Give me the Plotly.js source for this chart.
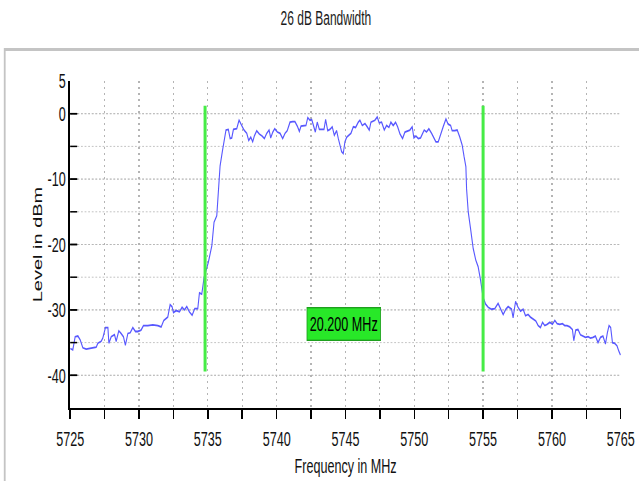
<!DOCTYPE html>
<html>
<head>
<meta charset="utf-8">
<script src="https://cdn.plot.ly/plotly-3.0.1.min.js"></script>
<style>
html,body{margin:0;padding:0;background:#ffffff;overflow:hidden;}
#frame{width:639px;height:481px;overflow:hidden;position:relative;}
#chart{position:absolute;left:0;top:0;transform-origin:0 0;}
</style>
</head>
<body>
<div id="frame"><div id="chart"></div></div>
<script>
// ---- data ----
const chartTitle = '26 dB Bandwidth';
const xTitle = 'Frequency in MHz';
const yTitle = 'Level in dBm';

const freqMHz = [
5725.00,5725.19,5725.36,5725.56,5725.73,5725.92,5726.16,5726.52,5726.89,5727.01,
5727.25,5727.37,5727.56,5727.74,5727.81,5727.98,5728.22,5728.34,5728.53,5728.70,
5728.87,5729.01,5729.19,5729.36,5729.55,5729.74,5729.91,5730.15,5730.32,5730.64,
5731.00,5731.37,5731.61,5731.80,5731.97,5732.09,5732.26,5732.40,5732.50,5732.70,
5732.94,5733.13,5733.30,5733.47,5733.66,5733.86,5734.05,5734.27,5734.39,5734.56,
5734.73,5735.04,5735.29,5735.45,5735.65,5735.77,5735.89,5736.06,5736.22,
5736.32,5736.49,5736.62,5736.74,5736.86,5737.10,5737.27,5737.46,5737.63,5737.83,
5737.97,5738.12,5738.26,5738.38,5738.55,5738.74,5738.94,5739.11,5739.28,5739.45,
5739.57,5739.72,5739.86,5740.05,5740.25,5740.44,5740.61,5740.77,5740.97,5741.17,
5741.33,5741.50,5741.65,5741.77,5741.94,5742.13,5742.26,5742.42,5742.55,5742.66,
5742.81,5742.95,5743.10,5743.27,5743.44,5743.56,5743.71,5743.87,5744.04,5744.19,
5744.36,5744.48,5744.60,5744.72,5744.84,
5744.96,5745.09,5745.25,5745.40,5745.57,5745.74,5745.93,5746.05,5746.22,5746.42,
5746.58,5746.73,5746.85,5747.02,5747.14,5747.31,5747.45,5747.63,5747.82,5747.99,
5748.16,5748.30,5748.47,5748.64,5748.79,5748.96,5749.15,5749.32,5749.52,5749.68,
5749.85,5749.97,5750.12,5750.29,5750.46,5750.58,5750.72,5750.89,5751.06,5751.26,
5751.42,5751.57,5751.74,5751.93,5752.10,5752.30,5752.46,5752.64,5752.75,5752.95,
5753.12,5753.31,5753.48,5753.62,5753.75,
5753.80,5753.92,5754.09,5754.28,5754.47,5754.64,5754.82,5754.96,
5755.00,5755.18,5755.37,5755.61,5755.85,5756.09,5756.29,5756.46,5756.65,5756.82,
5757.07,5757.18,5757.36,5757.54,5757.72,5757.91,5758.08,5758.27,5758.44,5758.63,
5758.83,5759.00,5759.17,5759.32,5759.48,5759.65,5759.85,5760.04,5760.21,5760.38,
5760.57,5760.77,5760.93,5761.10,5761.30,5761.49,5761.59,5761.73,5761.90,5762.07,
5762.26,5762.44,5762.63,5762.80,5762.99,5763.16,5763.35,5763.53,5763.71,5763.89,
5764.03,5764.15,5764.27,5764.40,5764.56,5764.73,5764.86,5764.98
];

const levelDbm = [
-35.9,-36.1,-34.1,-34.0,-34.6,-35.8,-36.0,-35.9,-35.7,-35.1,
-34.8,-34.3,-32.7,-32.7,-35.1,-34.1,-33.8,-34.8,-33.2,-33.6,
-34.1,-35.4,-33.6,-33.5,-32.7,-33.3,-33.3,-33.1,-32.4,-32.4,
-32.3,-32.4,-32.6,-31.6,-31.3,-31.1,-29.2,-29.5,-30.4,-30.1,
-30.3,-29.6,-30.0,-29.5,-30.3,-30.8,-29.8,-29.8,-27.4,-27.6,
-25.0,-22.7,-20.2,-16.6,-15.6,-11.5,-8.0,-5.7,-3.8,
-2.5,-2.4,-3.8,-3.7,-2.4,-2.3,-1.0,-1.8,-2.5,-3.0,
-4.1,-3.6,-4.3,-3.4,-2.6,-3.1,-3.4,-3.8,-3.0,-2.5,
-3.7,-2.8,-2.3,-2.8,-3.0,-3.8,-3.0,-2.6,-1.3,-1.2,
-1.2,-1.9,-2.7,-1.9,-1.9,-1.8,-0.6,-1.0,-0.9,-1.8,
-2.8,-1.3,-2.4,-2.4,-2.4,-0.9,-2.6,-2.4,-2.0,-3.3,
-2.6,-3.8,-4.8,-5.8,-6.1,
-4.3,-3.6,-3.3,-3.0,-2.0,-2.1,-1.3,-1.0,-1.8,-1.5,
-2.0,-2.5,-1.3,-1.1,-1.0,-0.5,-1.4,-1.3,-2.5,-1.8,
-2.1,-1.3,-1.8,-1.3,-2.0,-3.1,-3.8,-2.8,-2.6,-2.5,
-2.0,-3.7,-3.4,-3.8,-3.7,-3.1,-2.5,-2.8,-2.3,-3.0,
-3.7,-4.3,-4.3,-3.0,-2.0,-0.8,-1.6,-1.8,-2.6,-2.6,
-2.5,-3.6,-4.8,-6.6,-8.1,
-11.5,-15.0,-17.6,-20.6,-22.4,-23.4,-25.5,-27.2,
-28.1,-29.1,-29.6,-29.9,-29.8,-29.0,-29.9,-30.7,-29.9,-29.5,
-29.9,-31.2,-28.7,-29.6,-30.2,-29.9,-30.9,-30.7,-31.1,-31.4,
-31.7,-32.4,-32.7,-31.9,-32.4,-32.2,-31.9,-32.2,-31.6,-32.1,
-32.2,-32.1,-32.4,-32.4,-32.6,-33.0,-34.7,-33.1,-33.0,-33.8,
-34.0,-34.2,-34.1,-34.3,-34.2,-34.0,-35.0,-34.2,-34.0,-35.2,
-33.5,-32.4,-32.7,-35.0,-35.1,-35.5,-36.3,-36.9
];

// bandwidth markers (frequency of each marker, and the level span drawn)
const markerFreqMHz = [5734.8, 5755.0];
const markerSpanDbm = [1.2, -39.4];
const bandwidthText = '20.200 MHz';
const bandwidthLabelLevel = -32.2;

const xTickVals = [5725, 5730, 5735, 5740, 5745, 5750, 5755, 5760, 5765];
const xTickText = ['5725', '5730', '5735', '5740', '5745', '5750', '5755', '5760', '5765'];
const yTickVals = [5, 0, -10, -20, -30, -40];
const yTickText = ['5', '0', '-10', '-20', '-30', '-40'];
const xRange = [5725, 5765.02];
const yRange = [-45, 5];

// ---- page geometry: the reference draws its text horizontally condensed,
// so the chart is laid out wider and squeezed horizontally by K ----
const K = 0.6;
const W = 639, H = 481;
const chartEl = document.getElementById('chart');
chartEl.style.transform = 'scaleX(' + K + ')';

const font = "'Liberation Sans',Arial,sans-serif";

const mx = [], my = [];
markerFreqMHz.forEach((f, i) => {
  if (i > 0) { mx.push(null); my.push(null); }
  mx.push(f, f);
  my.push(markerSpanDbm[0], markerSpanDbm[1]);
});

const traces = [
  {
    type: 'scatter', mode: 'lines',
    x: freqMHz, y: levelDbm,
    line: {color: 'rgb(88,88,255)', width: 1.8},
    hoverinfo: 'skip', showlegend: false
  },
  {
    type: 'scatter', mode: 'lines',
    x: mx, y: my,
    line: {color: 'rgb(70,236,70)', width: 3 / K},
    hoverinfo: 'skip', showlegend: false
  }
];

const gridCol = '#b4b4b4';
const layout = {
  width: W / K, height: H,
  margin: {l: 70 / K, r: 18 / K, t: 81, b: 73, pad: 0},
  paper_bgcolor: '#ffffff', plot_bgcolor: '#ffffff',
  showlegend: false,
  title: {
    text: chartTitle, x: 0.51, xanchor: 'center', y: 1 - 18 / H, yanchor: 'middle',
    font: {family: font, size: 20, color: '#1a1a1a'}
  },
  xaxis: {
    range: xRange, tickmode: 'array', tickvals: xTickVals, ticktext: xTickText,
    ticks: 'outside', ticklen: 9, tickwidth: 1.5 / K, tickcolor: '#000',
    showline: true, linewidth: 2, linecolor: '#000',
    showgrid: true, gridcolor: gridCol, gridwidth: 1.2 / K, griddash: '2px,4px',
    zeroline: false,
    ticklabelstandoff: 2, ticklabeloverflow: 'allow',
    tickfont: {family: font, size: 21, color: '#111'},
    minor: {dtick: 2.5, tick0: 5725, ticks: 'outside', ticklen: 9, tickwidth: 1.5 / K, tickcolor: '#000',
            showgrid: true, gridcolor: gridCol, gridwidth: 1.2 / K, griddash: '2px,4px'},
    title: {text: xTitle, font: {family: font, size: 21, color: '#111'}, standoff: 9},
    fixedrange: true
  },
  yaxis: {
    range: yRange, tickmode: 'array', tickvals: yTickVals, ticktext: yTickText,
    ticks: 'inside', ticklen: 7 / K, tickwidth: 1.5, tickcolor: '#000',
    showline: true, linewidth: 2 / K, linecolor: '#000',
    showgrid: true, gridcolor: gridCol, gridwidth: 1, griddash: '3px,3px',
    zeroline: false,
    ticklabelstandoff: 0,
    tickfont: {family: font, size: 21, color: '#111'},
    minor: {dtick: 5, tick0: 0, ticks: 'inside', ticklen: 7 / K, tickwidth: 1.5, tickcolor: '#000',
            showgrid: true, gridcolor: gridCol, gridwidth: 1, griddash: '3px,3px'},
    title: {text: yTitle, font: {family: font, size: 20, color: '#111'}, standoff: 3},
    fixedrange: true
  },
  annotations: [{
    x: (markerFreqMHz[0] + markerFreqMHz[1]) / 2, y: bandwidthLabelLevel,
    xref: 'x', yref: 'y', text: bandwidthText, showarrow: false,
    font: {family: font, size: 21, color: '#000'},
    bgcolor: 'rgb(40,232,40)', bordercolor: 'rgb(30,160,30)', borderwidth: 1.4,
    borderpad: 4
  }],
  shapes: [{
    type: 'rect', xref: 'paper', yref: 'paper',
    x0: (4.5 - 70) / 551, x1: (700 - 70) / 551,
    y0: (408 - 540) / 327, y1: (408 - 49.5) / 327,
    line: {color: '#c4c4c4', width: 3}, fillcolor: 'rgba(0,0,0,0)', layer: 'below'
  }]
};

Plotly.newPlot('chart', traces, layout, {staticPlot: true, displayModeBar: false});
</script>
</body>
</html>
